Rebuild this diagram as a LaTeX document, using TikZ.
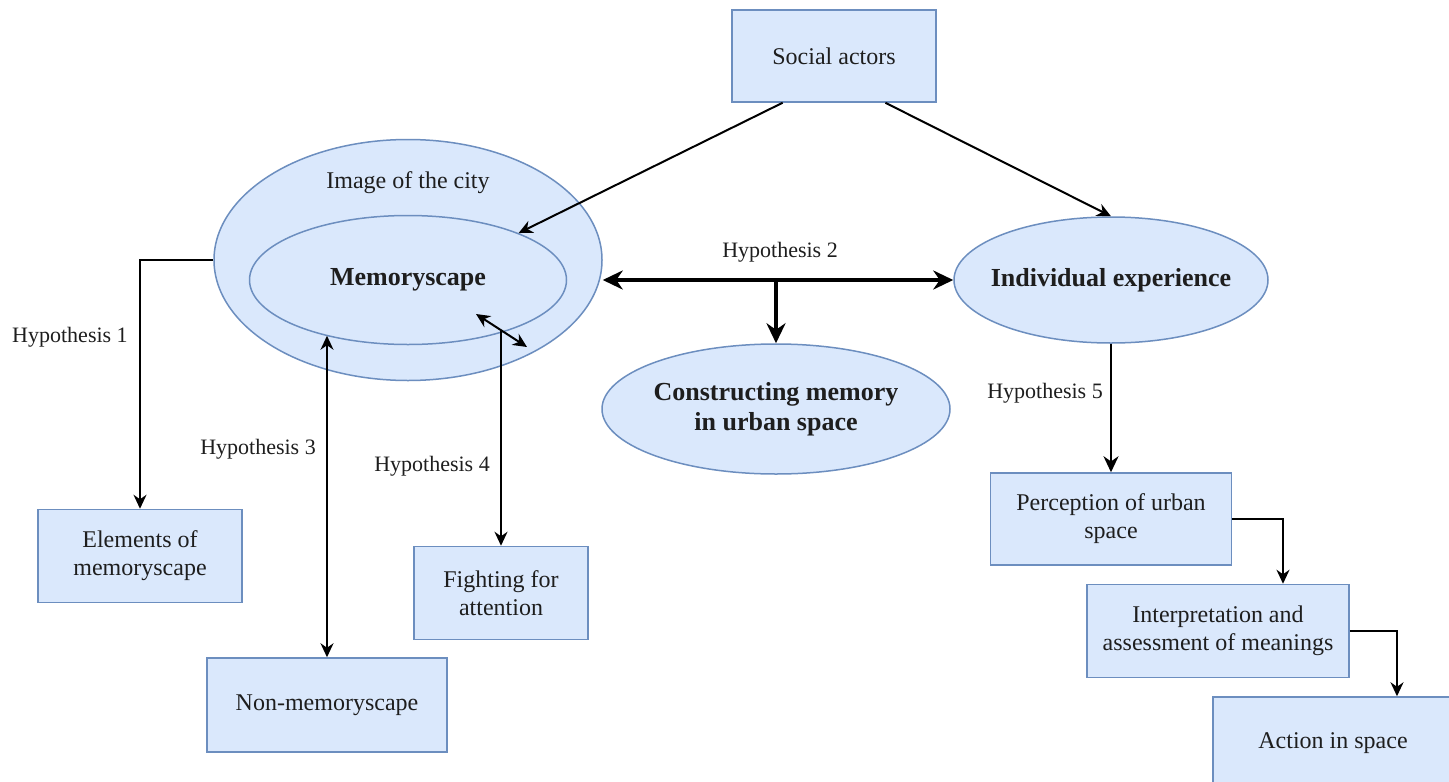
\documentclass[tikz,border=0pt]{standalone}
\usepackage{fontspec}
\setmainfont{Liberation Serif}
\usetikzlibrary{shapes.geometric,arrows.meta,calc}
\definecolor{boxfill}{HTML}{DAE8FC}
\definecolor{boxline}{HTML}{6C8EBF}
\definecolor{ink}{HTML}{1E1E1E}
\begin{document}
\begin{tikzpicture}[x=1pt,y=-1pt,
  every node/.style={font=\fontsize{22}{27}\selectfont, text=ink},
  ntext/.style={font=\fontsize{24}{28}\selectfont},
  bold/.style={font=\fontsize{26}{30}\selectfont\bfseries},
  rbox/.style={ntext, draw=boxline, fill=boxfill, line width=1.5pt, align=center, inner sep=0pt},
  ell/.style={ellipse, draw=boxline, fill=boxfill, line width=1.5pt, align=center, inner sep=0pt},
  conn/.style={line width=2pt, -{Stealth[length=14pt,width=13pt]}},
  conntwo/.style={line width=2pt, {Stealth[length=14pt,width=13pt]}-{Stealth[length=14pt,width=13pt]}},
  connfive/.style={line width=2.6pt, -{Stealth[length=16pt,width=15pt]}},
  thickconn/.style={line width=3.5pt, -{Stealth[length=20pt,width=19pt]}},
  thickconntwo/.style={line width=3.5pt, {Stealth[length=20pt,width=19pt]}-{Stealth[length=20pt,width=19pt]}}
]
\clip (0,0) rectangle (1449,782);
\fill[white] (0,0) rectangle (1449,782);

% nodes
\node[rbox, minimum width=204pt, minimum height=92pt] (sa) at (834,56) {Social actors};
\node[ell, minimum width=388pt, minimum height=241pt] (city) at (408,260) {};
\node[ntext] (citylbl) at (408,183) {Image of the city};
\node[ell, bold, minimum width=317pt, minimum height=129pt] (mem) at (408,280) {Memoryscape};
\node[ell, minimum width=314pt, minimum height=126pt] (ind) at (1111,280) {};
\node[bold] (indlbl) at (ind.center) {Individual experience};
\node[ell, minimum width=348pt, minimum height=130pt] (con) at (776,409) {};
\node[bold, align=center] (conlbl) at (con.center) {Constructing memory\\in urban space};
\node[rbox, minimum width=204pt, minimum height=93pt] (elem) at (140,556) {Elements of\\memoryscape};
\node[rbox, minimum width=240pt, minimum height=94pt] (non) at (327,705) {Non-memoryscape};
\node[rbox, minimum width=174pt, minimum height=93pt] (fight) at (501,593) {Fighting for\\attention};
\node[rbox, minimum width=241pt, minimum height=92pt] (perc) at (1111,519) {Perception of urban\\space};
\node[rbox, minimum width=262pt, minimum height=93pt] (interp) at (1218,631) {Interpretation and\\assessment of meanings};
\node[rbox, minimum width=240pt, minimum height=92pt] (act) at (1333,743) {Action in space};

% labels
\node (h1) at (70,337) {Hypothesis 1};
\node (h2) at (780,252) {Hypothesis 2};
\node (h3) at (258,449) {Hypothesis 3};
\node (h4) at (432,466) {Hypothesis 4};
\node (h5) at (1045,393) {Hypothesis 5};

% connectors
\draw[conn] ($(sa.south west)!0.25!(sa.south east)$) -- (mem.23);
\draw[conn] ($(sa.south west)!0.75!(sa.south east)$) -- (ind.north);
\draw[thickconntwo] (ind.west -| city.east) -- (ind.west);
\draw[thickconn] (con.north |- ind.west) -- (con.north);
\draw[conn] (city.west) -| (elem.north);
\draw[conntwo] (non.north) -- (non.north |- mem.214);
\coordinate (h4a) at (476,314);
\coordinate (h4b) at (527,347);
\coordinate (h4m) at ($(h4a)!0.47!(h4b)$);
\draw[conntwo] (h4a) -- (h4b);
\draw[conn] (fight.north |- h4m) -- (fight.north);
\draw[connfive] (ind.south) -- (perc.north);
\draw[conn] (perc.east) -| ([xshift=65pt]interp.north);
\draw[conn] (interp.east) -| ([xshift=64pt]act.north);
\end{tikzpicture}
\end{document}
